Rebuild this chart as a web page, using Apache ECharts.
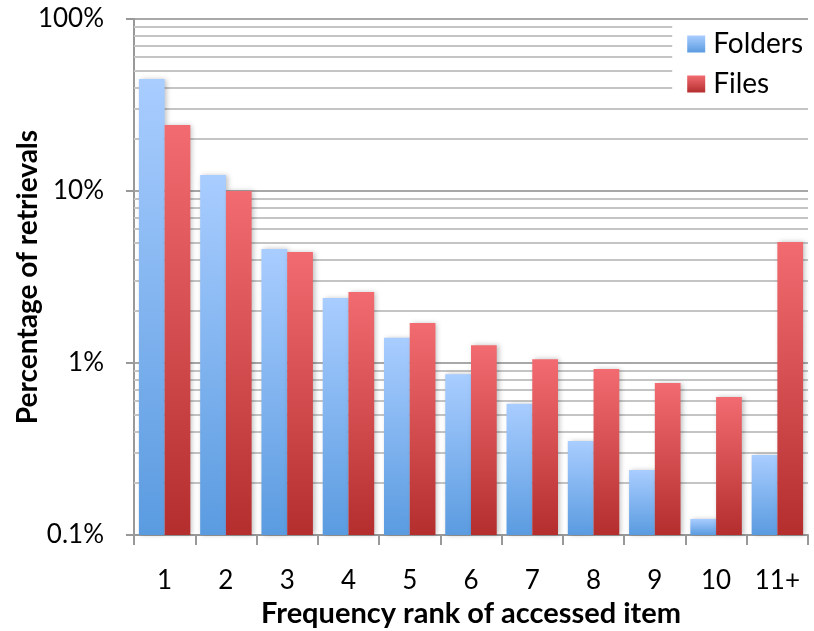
<!DOCTYPE html>
<html>
<head>
<meta charset="utf-8">
<script src="https://cdn.jsdelivr.net/npm/echarts@6/dist/echarts.min.js"></script>
<style>
  html, body { margin: 0; padding: 0; background: #fff; }
  #chart { width: 814px; height: 631px; }
</style>
</head>
<body>
<div id="chart"></div>
<script>
// Frequency rank categories
const categories = ['1', '2', '3', '4', '5', '6', '7', '8', '9', '10', '11+'];
// Percentage of retrievals per rank
const folders = [44.8, 12.4, 4.6, 2.39, 1.40, 0.86, 0.58, 0.352, 0.239, 0.124, 0.292];
const files = [24.2, 10.0, 4.42, 2.59, 1.71, 1.27, 1.05, 0.923, 0.766, 0.634, 5.05];
// Minor gridline values (2..9 within each decade)
const minorGridValues = [
  0.2, 0.3, 0.4, 0.5, 0.6, 0.7, 0.8, 0.9,
  2, 3, 4, 5, 6, 7, 8, 9,
  20, 30, 40, 50, 60, 70, 80, 90
];

const FONT = 'Lato, "Liberation Sans", sans-serif';

const chart = echarts.init(document.getElementById('chart'), null, { renderer: 'canvas' });

function grad(top, bottom) {
  return new echarts.graphic.LinearGradient(0, 0, 0, 1, [
    { offset: 0, color: top },
    { offset: 1, color: bottom }
  ]);
}

chart.setOption({
  animation: false,
  backgroundColor: '#ffffff',
  textStyle: { fontFamily: FONT },
  grid: { left: 134, right: 6, top: 19, bottom: 96, containLabel: false, outerBoundsMode: 'none' },
  legend: {
    data: ['Folders', 'Files'],
    orient: 'vertical',
    right: 0,
    top: 24,
    backgroundColor: '#ffffff',
    padding: [6, 11, 8, 15],
    itemGap: 12,
    itemWidth: 18,
    itemHeight: 17,
    icon: 'rect',
    textStyle: { fontSize: 28, color: '#000', fontFamily: FONT, padding: [0, 0, 0, 3] },
    z: 20
  },
  xAxis: {
    type: 'category',
    data: categories,
    axisLine: { lineStyle: { color: '#999999', width: 2 } },
    axisTick: { show: true, length: 10, lineStyle: { color: '#999999', width: 2 } },
    axisLabel: { fontSize: 26, color: '#000', margin: 33, fontFamily: FONT },
    name: 'Frequency rank of accessed item',
    nameLocation: 'middle',
    nameGap: 64,
    nameMoveOverlap: false,
    nameTextStyle: { fontSize: 29, fontWeight: 'bold', color: '#000', fontFamily: FONT }
  },
  yAxis: {
    type: 'log',
    logBase: 10,
    min: 0.1,
    max: 100,
    startValue: 0.1,
    axisLine: { show: true, lineStyle: { color: '#999999', width: 2 } },
    axisTick: { show: true, length: 8, lineStyle: { color: '#999999', width: 2 } },
    axisLabel: {
      fontSize: 26, color: '#000', margin: 30, fontFamily: FONT,
      formatter: function (v) { return (Math.round(v * 1000) / 1000) + '%'; }
    },
    splitLine: { show: true, lineStyle: { color: '#a8a8a8', width: 2 } },
    name: 'Percentage of retrievals',
    nameLocation: 'middle',
    nameGap: 92,
    nameMoveOverlap: false,
    nameTextStyle: { fontSize: 28, fontWeight: 'bold', color: '#000', fontFamily: FONT }
  },
  series: [
    {
      name: 'grid-minor',
      type: 'line',
      data: [],
      silent: true,
      z: 1,
      markLine: {
        silent: true,
        symbol: 'none',
        z: 1,
        label: { show: false },
        lineStyle: { color: '#c4c4c4', width: 2, type: 'solid' },
        data: minorGridValues.map(function (v) { return { yAxis: v }; })
      }
    },
    {
      name: 'Folders',
      type: 'bar',
      data: folders,
      z: 10,
      barGap: '0%',
      barCategoryGap: '16%',
      itemStyle: {
        color: grad('#a9cdff', '#5a9be0'),
        shadowColor: 'rgba(0,0,0,0.25)',
        shadowBlur: 5,
        shadowOffsetX: 2
      }
    },
    {
      name: 'Files',
      type: 'bar',
      data: files,
      z: 10,
      itemStyle: {
        color: grad('#f26b70', '#b52e2e'),
        shadowColor: 'rgba(0,0,0,0.25)',
        shadowBlur: 5,
        shadowOffsetX: 2
      }
    }
  ]
});
</script>
</body>
</html>
